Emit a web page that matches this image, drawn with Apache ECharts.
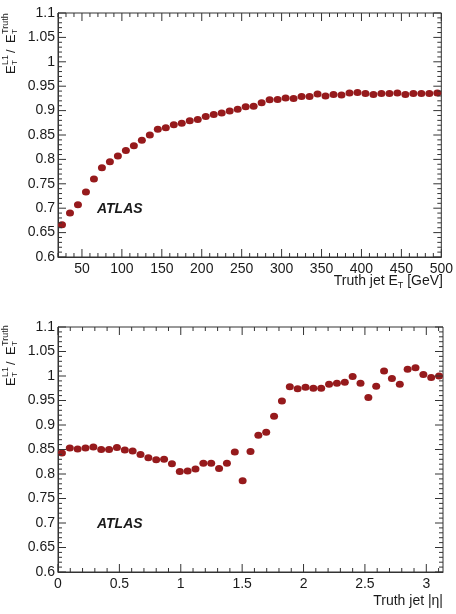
<!DOCTYPE html>
<html lang="en">
<head>
    <meta charset="utf-8">
    <title>L1 jet response</title>
    <script src="https://cdn.jsdelivr.net/npm/echarts@6/dist/echarts.min.js"></script>
</head>
<body style="margin:0">
    <div id="main" style="width: 456px;height:614px;"></div>
</body>
</html>
<script type="text/javascript">
    // top panel: response vs truth jet ET (10 GeV bins)
    var etBins = [25, 35, 45, 55, 65, 75, 85, 95, 105, 115, 125, 135, 145, 155, 165, 175,
        185, 195, 205, 215, 225, 235, 245, 255, 265, 275, 285, 295, 305, 315, 325, 335,
        345, 355, 365, 375, 385, 395, 405, 415, 425, 435, 445, 455, 465, 475, 485, 495];
    var etRatio = [0.666, 0.690, 0.707, 0.733, 0.760, 0.783, 0.795, 0.807, 0.818, 0.828,
        0.839, 0.850, 0.862, 0.865, 0.871, 0.874, 0.879, 0.882, 0.888, 0.892, 0.895,
        0.899, 0.903, 0.908, 0.909, 0.916, 0.922, 0.923, 0.926, 0.925, 0.929, 0.929,
        0.934, 0.930, 0.933, 0.932, 0.936, 0.937, 0.935, 0.933, 0.935, 0.935, 0.936,
        0.933, 0.935, 0.935, 0.935, 0.936];

    // bottom panel: response vs truth jet |eta|
    var etaBins = [0.032, 0.096, 0.160, 0.224, 0.288, 0.352, 0.416, 0.480, 0.544, 0.608,
        0.672, 0.736, 0.800, 0.864, 0.928, 0.992, 1.056, 1.120, 1.184, 1.248, 1.312,
        1.376, 1.440, 1.504, 1.568, 1.632, 1.696, 1.760, 1.824, 1.888, 1.952, 2.016,
        2.080, 2.144, 2.208, 2.272, 2.336, 2.400, 2.464, 2.528, 2.592, 2.656, 2.720,
        2.784, 2.848, 2.912, 2.976, 3.040, 3.104];
    var etaRatio = [0.843, 0.853, 0.851, 0.853, 0.855, 0.850, 0.850, 0.854, 0.849, 0.847,
        0.840, 0.833, 0.829, 0.830, 0.821, 0.805, 0.806, 0.810, 0.822, 0.822, 0.811,
        0.822, 0.845, 0.786, 0.846, 0.879, 0.885, 0.918, 0.949, 0.978, 0.974, 0.977,
        0.975, 0.975, 0.983, 0.985, 0.987, 0.999, 0.985, 0.956, 0.979, 1.010, 0.995,
        0.983, 1.014, 1.017, 1.003, 0.997, 1.000];

    // tick positions
    var etMajor = [50, 100, 150, 200, 250, 300, 350, 400, 450, 500];
    var etMinor = [20, 30, 40, 60, 70, 80, 90, 110, 120, 130, 140, 160, 170, 180, 190,
        210, 220, 230, 240, 260, 270, 280, 290, 310, 320, 330, 340, 360, 370, 380, 390,
        410, 420, 430, 440, 460, 470, 480, 490];
    var etaMajor = [0, 0.5, 1, 1.5, 2, 2.5, 3];
    var etaMinor = [0.1, 0.2, 0.3, 0.4, 0.6, 0.7, 0.8, 0.9, 1.1, 1.2, 1.3, 1.4, 1.6, 1.7,
        1.8, 1.9, 2.1, 2.2, 2.3, 2.4, 2.6, 2.7, 2.8, 2.9, 3.1];
    var yMajor = [0.6, 0.65, 0.7, 0.75, 0.8, 0.85, 0.9, 0.95, 1, 1.05, 1.1];
    var yMinor = [];
    for (var k = 61; k < 110; k++) {
        if (k % 5 !== 0) yMinor.push(k / 100);
    }

    var FONT = 'Liberation Sans';
    var INK = '#1a1a1a';
    var LINE = '#333';
    var RED = '#961a1c';
    var Y_MIN = 0.6, Y_MAX = 1.1;

    function pairs(xs, ys) {
        var res = [];
        for (var i = 0; i < xs.length; i++) {
            res.push([xs[i], ys[i]]);
        }
        return res;
    }

    function xAxis(gi, min, max, major) {
        return {
            type: 'value', gridIndex: gi, min: min, max: max,
            axisLine: { show: true, onZero: false, lineStyle: { color: LINE } },
            axisTick: { show: false },
            axisLabel: { customValues: major, margin: 5, fontFamily: FONT, fontSize: 14, color: INK },
            splitLine: { show: false }
        };
    }

    function yAxis(gi) {
        return {
            type: 'value', gridIndex: gi, min: Y_MIN, max: Y_MAX, interval: 0.05,
            axisLine: { show: true, onZero: false, lineStyle: { color: LINE } },
            axisTick: { show: false },
            axisLabel: { margin: 3, fontFamily: FONT, fontSize: 14, color: INK,
                formatter: function (v) { return String(+v.toFixed(2)); } },
            splitLine: { show: false }
        };
    }

    // inside ticks on all four sides (ROOT style), placed through the axes
    function tickSeries(gi, xMin, xMax, xMajor, xMinor) {
        var data = [];
        xMajor.forEach(function (v) { data.push(['x', v, 8]); });
        xMinor.forEach(function (v) { data.push(['x', v, 4]); });
        yMajor.forEach(function (v) { data.push(['y', v, 8]); });
        yMinor.forEach(function (v) { data.push(['y', v, 4]); });
        return {
            type: 'custom', xAxisIndex: gi, yAxisIndex: gi, silent: true, clip: false, z: 5,
            data: data.map(function (d, i) { return [i, d[1], d[2]]; }),
            renderItem: function (params, api) {
                var d = data[params.dataIndex];
                var v = d[1], len = d[2], a, b;
                var st = { stroke: LINE, lineWidth: 1 };
                if (d[0] === 'x') {
                    a = api.coord([v, Y_MIN]);
                    b = api.coord([v, Y_MAX]);
                    return { type: 'group', children: [
                        { type: 'line', shape: { x1: a[0], y1: a[1], x2: a[0], y2: a[1] - len }, style: st },
                        { type: 'line', shape: { x1: b[0], y1: b[1], x2: b[0], y2: b[1] + len }, style: st }
                    ] };
                }
                a = api.coord([xMin, v]);
                b = api.coord([xMax, v]);
                return { type: 'group', children: [
                    { type: 'line', shape: { x1: a[0], y1: a[1], x2: a[0] + len, y2: a[1] }, style: st },
                    { type: 'line', shape: { x1: b[0], y1: b[1], x2: b[0] - len, y2: b[1] }, style: st }
                ] };
            }
        };
    }

    // rotated y title E_T^L1 / E_T^Truth
    function yTitle(oy) {
        var t = function (str, x, y, size) {
            return { type: 'text', x: x, y: y, style: { text: str, fontFamily: FONT,
                fontSize: size, fill: INK, textAlign: 'left', textVerticalAlign: 'middle' } };
        };
        return {
            type: 'group', x: 11, y: oy, rotation: Math.PI / 2,
            children: [
                t('E', 0, 0, 13), t('L1', 9, -5, 9), t('T', 9, 4, 8),
                t('/', 21, 0, 13),
                t('E', 31, 0, 13), t('Truth', 40, -5, 9), t('T', 40, 4, 8)
            ]
        };
    }

    function xTitle(str, y) {
        return { type: 'text', x: 443, y: y, style: { text: str, fontFamily: FONT, fontSize: 14,
            fill: INK, textAlign: 'right', textVerticalAlign: 'top',
            rich: { s: { fontFamily: FONT, fontSize: 9, fill: INK, padding: [9, 0, 0, 0] } } } };
    }

    function atlas(y) {
        return { type: 'text', x: 97, y: y, style: { text: 'ATLAS', fontFamily: FONT,
            fontSize: 14, fontWeight: 'bold', fontStyle: 'italic', fill: INK,
            textAlign: 'left', textVerticalAlign: 'middle' } };
    }

    var myChart = echarts.init(document.getElementById('main'));

    var option = {
        animation: false,
        grid: [
            { left: 58, top: 13, width: 385, height: 244, show: true, borderColor: LINE, borderWidth: 1 },
            { left: 58, top: 327, width: 385, height: 245, show: true, borderColor: LINE, borderWidth: 1 }
        ],
        xAxis: [xAxis(0, 20, 500, etMajor), xAxis(1, 0, 3.136, etaMajor)],
        yAxis: [yAxis(0), yAxis(1)],
        graphic: [yTitle(74), yTitle(386), atlas(209), atlas(524),
            xTitle('Truth jet E{s|T} [GeV]', 272), xTitle('Truth jet |η|', 594)],
        series: [
            tickSeries(0, 20, 500, etMajor, etMinor),
            tickSeries(1, 0, 3.136, etaMajor, etaMinor),
            {
                type: 'scatter', xAxisIndex: 0, yAxisIndex: 0,
                symbol: 'circle', symbolSize: [8, 7],
                itemStyle: { color: RED, opacity: 1 },
                data: pairs(etBins, etRatio)
            },
            {
                type: 'scatter', xAxisIndex: 1, yAxisIndex: 1,
                symbol: 'circle', symbolSize: [8, 7],
                itemStyle: { color: RED, opacity: 1 },
                data: pairs(etaBins, etaRatio)
            }
        ]
    };

    myChart.setOption(option);
</script>
